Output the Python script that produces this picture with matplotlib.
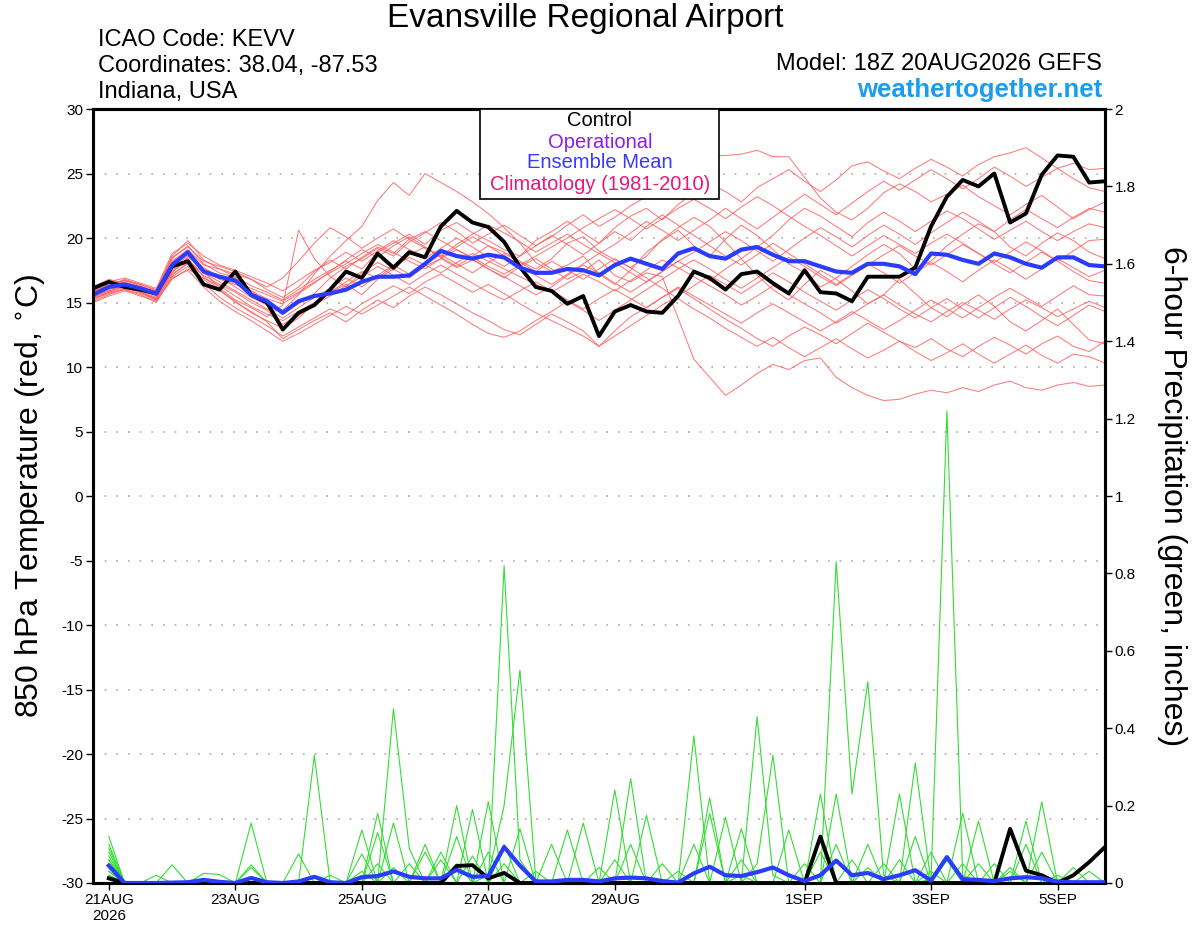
import numpy as np
import matplotlib
matplotlib.use('Agg')
import matplotlib.pyplot as plt
from matplotlib.patches import Rectangle

plt.rcParams['font.family'] = ['Liberation Sans', 'DejaVu Sans']
plt.rcParams['axes.unicode_minus'] = False

# time axis: days after 21AUG 00Z, 6-hourly
# temperature starts 20AUG 18Z (65 pts), precip starts 21AUG 00Z (64 pts)
tick_days = [0, 2, 4, 6, 8, 11, 13, 15]
tick_labels = ['21AUG\n2026', '23AUG', '25AUG', '27AUG', '29AUG', '1SEP', '3SEP', '5SEP']

# control (black) 850 hPa temperature
control_t = [16.1, 16.6, 16.2, 16.0, 15.7, 17.8, 18.2, 16.4, 16.0, 17.4, 15.6, 15.0, 12.9,
             14.2, 14.8, 16.0, 17.4, 16.9, 18.8, 17.7, 18.9, 18.5, 20.9, 22.1, 21.2, 20.85,
             19.7, 17.75, 16.2, 15.9, 14.9, 15.5, 12.4, 14.3, 14.8, 14.3, 14.2, 15.5, 17.4,
             16.9, 16.0, 17.2, 17.4, 16.5, 15.7, 17.5, 15.8, 15.7, 15.1, 17.0, 17.0, 17.0,
             17.7, 20.9, 23.2, 24.5, 24.0, 25.0, 21.2, 21.9, 24.9, 26.4, 26.3, 24.3, 24.4]

# ensemble mean (blue) temperature
mean_t = [15.6, 16.2, 16.4, 16.1, 15.7, 17.9, 18.9, 17.4, 17.0, 16.7, 15.6, 15.1, 14.2,
          15.1, 15.5, 15.7, 16.0, 16.6, 17.0, 17.0, 17.1, 18.0, 19.0, 18.6, 18.4, 18.7,
          18.5, 17.7, 17.3, 17.3, 17.6, 17.5, 17.1, 17.9, 18.4, 18.0, 17.6, 18.8, 19.2,
          18.6, 18.4, 19.1, 19.3, 18.7, 18.2, 18.2, 17.8, 17.4, 17.3, 18.0, 18.0, 17.8,
          17.2, 18.8, 18.7, 18.3, 18.0, 18.8, 18.5, 18.0, 17.7, 18.5, 18.5, 17.9, 17.8]

# ensemble members (red) temperature
member_t = [
    [15.8, 16.4, 16.6, 16.2, 15.9, 18.4, 19.4, 18.0, 17.3, 16.9, 15.9, 15.0, 14.4,
     15.6, 17.2, 18.6, 19.8, 20.9, 22.9, 24.3, 23.3, 25.0, 24.3, 23.6, 22.8, 21.9,
     20.8, 19.6, 18.1, 17.4, 17.9, 18.6, 17.2, 16.4, 17.5, 18.9, 19.8, 20.6, 19.4,
     18.6, 19.9, 21.0, 20.2, 19.1, 18.0, 17.3, 16.2, 16.9, 17.8, 18.7, 19.5, 18.8,
     17.6, 18.2, 19.4, 20.3, 21.1, 20.5, 19.3, 18.6, 19.6, 20.4, 19.8, 18.9, 18.4],
    [15.4, 15.9, 16.2, 15.8, 15.3, 17.6, 18.6, 17.4, 16.1, 15.2, 14.6, 13.9, 14.8,
     20.6, 18.4, 17.0, 16.2, 17.3, 18.1, 17.5, 18.7, 19.3, 18.5, 17.8, 18.6, 19.4,
     18.9, 18.2, 17.6, 18.4, 19.6, 20.1, 19.0, 18.3, 17.7, 18.6, 19.9, 20.8, 21.6,
     20.9, 19.7, 18.4, 17.1, 16.0, 15.2, 16.4, 17.5, 16.8, 15.9, 14.9, 15.6, 16.8,
     15.7, 14.6, 13.9, 14.8, 15.6, 14.7, 13.5, 12.8, 13.6, 14.5, 13.3, 12.1, 11.8],
    [15.6, 16.1, 16.5, 16.1, 15.7, 17.2, 18.0, 16.8, 15.9, 15.1, 14.2, 13.6, 13.0,
     13.8, 14.9, 15.8, 16.4, 15.6, 16.8, 17.6, 16.9, 17.8, 18.4, 17.7, 18.3, 17.6,
     16.9, 17.8, 18.4, 17.6, 16.8, 17.4, 18.3, 17.1, 16.6, 17.3, 17.0, 13.8, 10.6,
     9.2, 7.8, 8.6, 9.5, 10.2, 9.8, 10.5, 10.7, 9.2, 8.4, 7.8, 7.4, 7.5,
     7.9, 8.2, 8.0, 8.4, 8.1, 8.6, 8.9, 8.4, 8.2, 8.6, 8.8, 8.5, 8.6],
    [15.9, 16.3, 16.8, 16.4, 16.0, 18.6, 19.8, 18.3, 17.6, 17.0, 16.3, 15.8, 15.2,
     16.0, 16.8, 17.5, 18.2, 17.6, 18.9, 19.6, 20.3, 19.5, 20.6, 21.2, 20.4, 19.8,
     19.1, 18.6, 19.8, 20.5, 21.3, 20.4, 19.6, 20.8, 21.7, 22.3, 21.4, 22.6, 23.5,
     24.2, 23.6, 22.8, 23.9, 24.6, 25.3, 24.4, 23.6, 24.5, 25.6, 25.9, 25.2, 24.6,
     25.4, 26.1, 25.5, 24.8, 25.7, 26.3, 26.6, 27.0, 26.2, 25.4, 25.8, 25.3, 25.4],
    [15.2, 15.8, 16.0, 15.7, 15.2, 17.3, 18.5, 17.7, 17.0, 16.2, 15.4, 14.8, 14.2,
     14.9, 15.7, 16.9, 17.8, 18.4, 19.2, 18.6, 19.7, 20.4, 21.2, 20.5, 19.6, 20.3,
     21.0, 20.2, 19.4, 20.1, 21.0, 21.8, 20.9, 21.6, 22.5, 23.2, 24.0, 24.8, 25.6,
     26.3, 26.4, 26.5, 26.8, 26.3, 26.3, 24.7, 23.1, 22.0, 21.4, 22.3, 23.5, 24.2,
     23.6, 22.8, 23.4, 24.1, 23.2, 22.5, 21.8, 22.6, 23.3, 22.4, 21.5, 22.2, 22.8],
    [15.3, 15.7, 16.0, 15.6, 15.0, 17.0, 17.8, 16.5, 15.4, 14.6, 13.9, 13.2, 12.4,
     13.1, 13.8, 14.5, 14.0, 14.9, 15.6, 16.3, 15.7, 16.6, 17.2, 16.5, 15.8, 16.4,
     15.7, 14.9, 14.2, 13.6, 13.0, 12.4, 11.6, 12.8, 13.9, 14.6, 15.4, 16.1, 15.3,
     14.5, 13.7, 13.0, 12.2, 11.6, 12.4, 13.1, 12.5, 11.8, 12.6, 13.4, 12.7, 12.0,
     11.5, 12.2, 11.4, 10.8, 11.6, 12.3, 11.7, 11.0, 11.8, 12.4, 11.6, 11.2, 12.0],
    [16.2, 16.8, 16.5, 16.0, 15.5, 18.2, 19.1, 17.9, 17.6, 17.2, 16.8, 16.0, 15.4,
     16.2, 17.4, 18.3, 17.6, 18.5, 19.3, 18.8, 19.9, 20.5, 19.8, 19.1, 18.4, 17.6,
     17.0, 16.3, 15.6, 16.2, 17.1, 17.9, 17.3, 16.5, 15.8, 16.6, 17.4, 18.2, 17.5,
     16.7, 17.6, 18.4, 19.3, 20.2, 21.4, 22.3, 21.7, 20.9, 20.1, 21.2, 22.0, 21.3,
     20.5, 21.3, 22.1, 21.5, 20.7, 19.9, 20.6, 21.3, 20.5, 19.8, 20.5, 21.1, 20.8],
    [15.0, 15.5, 15.9, 15.5, 15.1, 16.8, 17.6, 16.9, 16.3, 15.5, 14.7, 14.1, 13.6,
     14.3, 15.0, 15.8, 16.6, 17.4, 16.9, 17.8, 18.5, 17.9, 17.3, 18.1, 18.8, 18.2,
     17.6, 17.0, 16.4, 15.8, 16.5, 17.2, 16.6, 15.9, 16.7, 17.5, 18.3, 17.7, 17.0,
     16.3, 15.6, 14.8, 15.5, 16.3, 15.6, 14.9, 14.2, 13.4, 14.1, 14.9, 15.6, 14.8,
     14.1, 13.5, 14.3, 15.0, 14.4, 13.7, 14.5, 15.2, 14.6, 13.9, 14.5, 15.1, 14.6],
    [15.7, 16.3, 16.7, 16.3, 15.8, 18.1, 19.0, 17.5, 16.8, 16.4, 15.9, 15.3, 14.9,
     15.7, 16.5, 17.4, 18.3, 19.1, 18.5, 19.4, 20.1, 19.3, 18.6, 19.5, 20.3, 21.0,
     20.4, 19.7, 18.9, 19.6, 20.3, 19.5, 18.8, 19.5, 20.4, 21.3, 20.6, 19.8, 20.6,
     21.4, 22.3, 21.5, 20.7, 21.6, 22.5, 23.4, 22.6, 21.8, 22.7, 23.6, 24.4, 23.7,
     24.5, 25.3, 24.6, 23.8, 24.6, 25.5, 24.8, 24.0, 24.7, 25.4, 24.6, 23.9, 23.6],
    [15.5, 16.0, 16.3, 16.0, 15.6, 17.5, 18.4, 17.0, 16.0, 15.0, 14.3, 13.5, 12.2,
     12.9, 13.6, 14.2, 13.5, 14.4, 15.2, 14.6, 15.5, 16.2, 15.6, 14.9, 14.2, 13.6,
     12.9, 12.5, 13.3, 14.1, 13.5, 12.8, 11.6, 12.4, 13.2, 14.0, 14.8, 15.5, 16.3,
     17.1, 16.4, 15.7, 16.5, 17.3, 16.6, 15.8, 15.1, 14.4, 15.2, 16.0, 15.3, 14.5,
     13.8, 14.6, 15.3, 14.5, 13.8, 14.6, 15.4, 14.7, 13.9, 13.2, 14.0, 14.8, 14.3],
    [16.0, 16.6, 16.9, 16.5, 16.1, 18.8, 19.6, 18.6, 17.9, 17.5, 17.0, 16.5, 15.9,
     16.7, 17.5, 18.1, 18.9, 18.2, 19.0, 19.8, 19.1, 18.4, 19.2, 20.0, 19.3, 18.5,
     17.8, 18.6, 19.4, 20.2, 19.5, 18.7, 19.6, 20.5, 19.8, 20.9, 21.8, 21.0, 20.2,
     19.4, 18.6, 17.9, 18.7, 19.6, 18.8, 18.0, 17.2, 16.4, 17.2, 18.0, 17.3, 16.5,
     17.3, 18.1, 17.4, 16.6, 17.5, 18.3, 17.6, 16.8, 17.6, 18.4, 17.7, 17.0, 17.5],
    [15.4, 15.9, 16.3, 15.9, 15.4, 17.4, 18.2, 17.3, 16.6, 15.9, 15.2, 14.5, 13.8,
     14.6, 15.4, 16.1, 16.9, 16.2, 17.1, 17.9, 17.2, 18.0, 18.7, 18.0, 17.3, 18.1,
     18.8, 18.1, 17.4, 18.2, 17.5, 16.8, 17.6, 18.4, 17.7, 16.9, 16.1, 15.3, 14.5,
     13.8, 13.0, 12.3, 11.6, 12.3, 11.5, 10.8, 11.5, 12.2, 11.4, 10.7, 11.3, 12.0,
     11.2, 10.5, 11.1, 11.8, 11.0, 10.3, 11.0, 11.7, 10.9, 10.3, 11.0, 10.8, 10.3],
    [15.9, 16.5, 16.7, 16.4, 15.9, 18.5, 19.3, 18.2, 17.8, 17.4, 16.8, 16.2, 16.9,
     18.2, 19.6, 20.8, 20.1, 19.2, 20.0, 20.7, 19.9, 19.2, 18.5, 19.3, 20.1, 19.4,
     18.6, 17.9, 17.1, 16.4, 17.2, 18.0, 18.8, 18.1, 17.3, 16.6, 17.4, 18.2, 18.9,
     19.7, 20.5, 19.8, 19.0, 18.2, 19.1, 20.0, 20.8, 20.1, 19.3, 20.2, 21.0, 20.3,
     19.5, 20.4, 21.2, 22.0, 21.3, 20.5, 21.4, 22.2, 21.5, 20.8, 21.6, 22.3, 22.0],
    [15.1, 15.6, 16.1, 15.8, 15.2, 16.9, 17.5, 16.2, 15.1, 14.3, 13.6, 12.8, 12.0,
     12.6, 13.3, 14.0, 14.7, 14.1, 14.8, 15.5, 16.2, 15.5, 14.8, 14.1, 13.3, 12.6,
     12.3, 12.8, 13.6, 14.3, 15.1, 14.4, 13.6, 14.4, 15.2, 16.0, 16.8, 17.6, 18.3,
     17.6, 16.8, 16.1, 16.9, 17.7, 18.5, 17.8, 17.0, 16.3, 17.1, 17.9, 18.7, 19.4,
     18.6, 17.9, 18.7, 19.5, 18.8, 18.0, 17.3, 18.1, 18.9, 18.2, 17.4, 16.7, 16.5],
    [15.6, 16.2, 16.4, 16.1, 15.7, 17.8, 18.9, 17.6, 16.9, 16.5, 16.1, 15.6, 15.1,
     15.8, 16.6, 17.3, 18.0, 18.8, 19.5, 18.9, 18.2, 17.6, 18.4, 19.1, 18.5, 17.8,
     17.2, 17.9, 18.6, 19.3, 20.0, 20.8, 21.5, 22.2, 21.5, 20.7, 21.5, 22.3, 23.0,
     22.3, 21.5, 22.4, 23.2, 22.5, 21.7, 20.9, 20.2, 19.4, 18.6, 19.4, 20.2, 19.5,
     18.8, 19.6, 20.3, 19.6, 18.8, 18.1, 18.9, 19.7, 19.0, 18.2, 19.0, 19.8, 19.9],
    [15.3, 15.8, 16.2, 15.8, 15.3, 17.1, 18.1, 17.1, 16.4, 15.8, 15.0, 14.4, 13.3,
     14.0, 14.8, 15.5, 16.3, 17.0, 17.8, 17.1, 16.4, 17.2, 17.9, 17.2, 16.5, 15.8,
     15.2, 15.9, 16.6, 15.9, 15.2, 14.5, 15.3, 16.0, 15.3, 14.6, 15.4, 16.2, 15.5,
     14.8, 14.1, 13.4, 14.2, 14.9, 14.2, 13.5, 12.8, 13.5, 14.3, 13.6, 12.9, 13.6,
     14.4, 15.2, 14.5, 13.8, 14.6, 15.4, 16.1, 15.4, 14.7, 15.5, 16.3, 15.6, 15.5],
]

# control (black) 6-hour precipitation
control_p = [0.012, 0, 0, 0, 0, 0, 0, 0, 0, 0, 0, 0, 0, 0, 0, 0,
             0, 0, 0, 0, 0, 0, 0.044, 0.046, 0.012, 0.026, 0, 0, 0, 0, 0, 0,
             0, 0, 0, 0, 0, 0, 0, 0, 0, 0, 0, 0, 0, 0.12, 0, 0,
             0, 0, 0, 0, 0, 0, 0, 0, 0, 0.14, 0.032, 0.02, 0, 0.02, 0.054, 0.093]

# ensemble mean (blue) 6-hour precipitation
mean_p = [0.045, 0, 0, 0, 0.001, 0.002, 0.008, 0.003, 0, 0.013, 0.002, 0, 0.004, 0.016, 0.002, 0,
          0.015, 0.018, 0.03, 0.016, 0.012, 0.012, 0.034, 0.016, 0.018, 0.093, 0.045, 0.004, 0.004, 0.008, 0.008, 0.004,
          0.012, 0.014, 0.012, 0.005, 0.001, 0.025, 0.042, 0.02, 0.018, 0.028, 0.04, 0.02, 0.005, 0.02, 0.058, 0.02,
          0.026, 0.01, 0.02, 0.033, 0.006, 0.067, 0.01, 0.008, 0.005, 0.012, 0.015, 0.012, 0.003, 0.002, 0.002, 0.002]

# ensemble members (green) 6-hour precipitation
member_p = [
    [0.12, 0, 0, 0, 0, 0, 0, 0, 0, 0, 0, 0, 0, 0.33, 0, 0,
     0, 0, 0, 0, 0, 0, 0, 0, 0, 0.82, 0.06, 0, 0, 0, 0, 0,
     0, 0, 0, 0, 0, 0, 0, 0, 0.02, 0, 0, 0, 0, 0, 0, 0,
     0, 0, 0, 0, 0.03, 0, 0, 0, 0, 0, 0, 0, 0, 0, 0, 0],
    [0.10, 0, 0, 0, 0, 0, 0, 0, 0, 0, 0, 0, 0, 0, 0, 0,
     0, 0, 0.45, 0.09, 0, 0, 0, 0, 0, 0, 0, 0, 0, 0, 0, 0,
     0, 0, 0, 0, 0, 0, 0, 0, 0, 0, 0, 0, 0, 0, 0.83, 0.23,
     0.52, 0.02, 0, 0, 0, 0, 0, 0, 0, 0, 0, 0, 0, 0, 0, 0],
    [0.08, 0, 0, 0, 0, 0, 0, 0, 0, 0.155, 0, 0, 0, 0, 0, 0,
     0, 0, 0, 0, 0, 0, 0, 0, 0.02, 0.2, 0.55, 0.01, 0, 0, 0, 0,
     0, 0, 0, 0, 0, 0, 0, 0, 0, 0, 0, 0, 0, 0, 0, 0,
     0, 0, 0, 0, 0, 0, 0, 0, 0, 0.03, 0, 0, 0, 0, 0, 0],
    [0.06, 0, 0, 0, 0, 0, 0, 0, 0, 0, 0, 0, 0, 0, 0, 0,
     0, 0.13, 0, 0, 0, 0, 0, 0, 0, 0, 0, 0, 0, 0, 0, 0,
     0, 0, 0, 0, 0, 0.38, 0, 0, 0, 0, 0, 0, 0, 0, 0, 0,
     0, 0, 0, 0, 0.01, 1.22, 0.02, 0, 0, 0, 0, 0, 0, 0, 0, 0],
    [0.05, 0, 0, 0, 0, 0, 0, 0, 0, 0, 0, 0, 0, 0, 0, 0,
     0, 0, 0, 0, 0, 0, 0.2, 0, 0, 0, 0, 0, 0, 0, 0, 0,
     0, 0, 0, 0, 0, 0, 0, 0, 0, 0.43, 0.02, 0, 0, 0, 0, 0,
     0, 0, 0, 0, 0, 0, 0, 0, 0, 0, 0, 0, 0.01, 0, 0, 0],
    [0.04, 0, 0, 0, 0, 0, 0, 0, 0, 0, 0, 0, 0.075, 0, 0, 0,
     0, 0, 0, 0, 0, 0, 0, 0, 0, 0, 0, 0, 0, 0, 0, 0,
     0.24, 0, 0, 0, 0, 0, 0, 0, 0, 0.05, 0.33, 0, 0, 0, 0, 0,
     0, 0, 0, 0.31, 0, 0, 0, 0, 0, 0, 0, 0, 0, 0, 0, 0],
    [0.03, 0, 0, 0, 0, 0, 0, 0, 0, 0, 0, 0, 0, 0, 0, 0,
     0, 0.18, 0, 0, 0, 0, 0, 0, 0, 0, 0, 0, 0, 0, 0.155, 0,
     0, 0.27, 0, 0, 0, 0, 0, 0, 0, 0, 0, 0, 0, 0.23, 0, 0,
     0, 0, 0, 0, 0, 0, 0, 0, 0, 0, 0, 0.21, 0, 0, 0, 0],
    [0.07, 0, 0, 0, 0, 0, 0, 0, 0, 0, 0, 0, 0, 0, 0, 0,
     0.137, 0, 0, 0, 0, 0, 0, 0.19, 0, 0, 0, 0, 0, 0, 0, 0,
     0, 0, 0, 0, 0, 0, 0.22, 0, 0, 0, 0, 0, 0, 0, 0, 0,
     0, 0, 0.23, 0, 0, 0, 0, 0, 0, 0, 0.16, 0, 0, 0, 0, 0],
    [0.02, 0, 0, 0, 0, 0, 0, 0, 0, 0, 0, 0, 0, 0, 0, 0,
     0, 0, 0.155, 0, 0, 0, 0, 0, 0.21, 0, 0, 0, 0, 0.137, 0, 0,
     0, 0, 0, 0, 0, 0, 0, 0.17, 0, 0, 0, 0, 0, 0, 0, 0,
     0, 0, 0, 0, 0, 0, 0.18, 0, 0, 0, 0, 0, 0, 0, 0, 0],
    [0.03, 0, 0, 0, 0, 0, 0, 0, 0, 0, 0, 0, 0, 0, 0, 0,
     0, 0, 0, 0, 0.10, 0, 0.12, 0, 0, 0, 0, 0, 0, 0, 0, 0,
     0, 0, 0.175, 0, 0, 0, 0, 0, 0, 0, 0, 0, 0, 0, 0.23, 0,
     0, 0, 0, 0, 0, 0, 0, 0.16, 0, 0, 0, 0, 0, 0, 0, 0],
    [0, 0, 0, 0, 0, 0, 0, 0, 0, 0, 0, 0, 0, 0, 0, 0,
     0.075, 0, 0, 0, 0, 0.08, 0, 0, 0, 0, 0, 0, 0.1, 0, 0, 0,
     0, 0, 0, 0, 0, 0, 0, 0, 0.14, 0, 0, 0, 0, 0, 0, 0,
     0.1, 0, 0, 0, 0, 0, 0, 0, 0, 0, 0, 0, 0, 0.04, 0, 0],
    [0, 0, 0, 0, 0, 0, 0, 0, 0, 0.047, 0, 0, 0, 0, 0, 0,
     0, 0, 0, 0, 0.08, 0, 0, 0, 0, 0, 0.14, 0, 0, 0, 0, 0,
     0, 0, 0, 0, 0, 0, 0.18, 0, 0, 0, 0, 0.137, 0, 0, 0, 0,
     0, 0, 0, 0.12, 0, 0, 0, 0, 0, 0, 0, 0, 0, 0, 0, 0],
    [0, 0, 0, 0, 0.047, 0, 0, 0, 0, 0, 0, 0, 0, 0, 0, 0,
     0, 0, 0, 0.05, 0, 0, 0, 0, 0, 0.1, 0, 0, 0, 0, 0, 0.04,
     0, 0, 0, 0, 0, 0, 0, 0, 0, 0, 0, 0, 0, 0.08, 0, 0,
     0, 0, 0, 0, 0, 0.06, 0, 0, 0, 0, 0.1, 0, 0, 0, 0, 0],
    [0, 0, 0, 0, 0, 0, 0.025, 0.022, 0, 0, 0, 0, 0, 0, 0, 0,
     0, 0, 0, 0, 0, 0.06, 0, 0, 0.08, 0, 0, 0, 0, 0, 0, 0,
     0, 0, 0, 0.05, 0, 0, 0, 0, 0, 0, 0, 0, 0, 0, 0, 0.06,
     0, 0, 0, 0, 0, 0, 0, 0, 0.05, 0, 0, 0.08, 0, 0, 0, 0],
    [0.02, 0, 0, 0.02, 0, 0, 0, 0, 0, 0, 0, 0, 0, 0, 0.02, 0,
     0, 0, 0, 0, 0, 0, 0.05, 0, 0, 0, 0, 0, 0, 0, 0, 0,
     0.06, 0, 0, 0, 0, 0.1, 0, 0, 0, 0, 0, 0, 0, 0, 0, 0,
     0, 0.05, 0, 0, 0.08, 0, 0, 0, 0, 0, 0, 0, 0, 0, 0, 0],
    [0, 0, 0, 0, 0, 0, 0, 0, 0, 0.04, 0, 0, 0, 0, 0, 0,
     0, 0.05, 0, 0, 0, 0, 0, 0.07, 0, 0, 0, 0, 0, 0, 0, 0,
     0, 0.1, 0, 0, 0, 0, 0, 0, 0, 0, 0, 0, 0.05, 0, 0, 0,
     0, 0, 0.06, 0, 0, 0, 0, 0, 0, 0.04, 0, 0, 0, 0, 0, 0],
    [0.06, 0, 0, 0, 0, 0, 0, 0, 0, 0, 0, 0, 0, 0, 0, 0,
     0.03, 0, 0, 0, 0, 0, 0, 0, 0, 0.05, 0, 0, 0, 0, 0, 0,
     0, 0, 0, 0, 0.03, 0, 0, 0, 0, 0, 0, 0, 0, 0, 0.1, 0,
     0, 0, 0, 0, 0, 0, 0.05, 0, 0, 0, 0, 0, 0.02, 0, 0, 0],
    [0.09, 0, 0, 0, 0, 0, 0, 0, 0, 0, 0, 0, 0, 0, 0, 0,
     0, 0, 0.04, 0, 0, 0, 0, 0, 0, 0, 0, 0.03, 0, 0, 0, 0,
     0, 0, 0, 0, 0, 0, 0, 0, 0.06, 0, 0, 0, 0, 0, 0, 0,
     0.04, 0, 0, 0, 0, 0, 0, 0.05, 0, 0, 0, 0, 0, 0, 0.03, 0],
]

t_temp = np.arange(len(control_t)) * 0.25 - 0.25
t_prcp = np.arange(len(control_p)) * 0.25

fig = plt.figure(figsize=(12, 9.27), dpi=100)
ax = fig.add_axes([93 / 1200, 1 - 883 / 927, (1105 - 93) / 1200, (883 - 109) / 927])
ax2 = ax.twinx()

# temperature
for m in member_t:
    ax.plot(t_temp, m, color='#ff5a5a', lw=0.7, alpha=0.85, zorder=2)
ax.plot(t_temp, control_t, color='black', lw=2.8, zorder=4)
ax.plot(t_temp, mean_t, color='#2a3cff', lw=3, zorder=5)

# precipitation
for m in member_p:
    ax2.plot(t_prcp, m, color='#33dd33', lw=0.8, zorder=2)
ax2.plot(t_prcp, control_p, color='black', lw=2.8, zorder=4)
ax2.plot(t_prcp, mean_p, color='#2a3cff', lw=3, zorder=5)

ax.set_xlim(-0.25, 15.75)
ax.set_ylim(-30, 30)
ax2.set_ylim(0, 2)
ax.set_yticks(np.arange(-30, 31, 5))
ax2.set_yticks(np.arange(0, 2.01, 0.2))
ax2.set_yticklabels([f'{v:g}' for v in np.arange(0, 2.01, 0.2).round(1)])
ax.set_xticks(tick_days)
ax.set_xticklabels(tick_labels)

for g in np.arange(-25, 26, 5):
    ax.axhline(g, color='#aaaaaa', lw=1.2, ls=(0, (1, 6)), zorder=1)

for a in (ax, ax2):
    for s in a.spines.values():
        s.set_linewidth(2.2)
    a.tick_params(labelsize=11, length=5, width=1, direction='out', pad=2)

ax.set_ylabel('850 hPa Temperature (red, $^{\\circ}$C)', fontsize=23, va='center')
ax.yaxis.set_label_coords(-0.062, 0.5)
ax2.set_ylabel('6-hour Precipitation (green, inches)', fontsize=23, rotation=270, va='center')
ax2.yaxis.set_label_coords(1.066, 0.5)

# header text
fig.text(585 / 1200, 1 - 18 / 927, 'Evansville Regional Airport', fontsize=24, ha='center', va='center')
fig.text(98 / 1200, 1 - 40 / 927, 'ICAO Code: KEVV', fontsize=17, ha='left', va='center')
fig.text(98 / 1200, 1 - 66 / 927, 'Coordinates: 38.04, -87.53', fontsize=17, ha='left', va='center')
fig.text(98 / 1200, 1 - 92 / 927, 'Indiana, USA', fontsize=17, ha='left', va='center')
fig.text(1102 / 1200, 1 - 64 / 927, 'Model: 18Z 20AUG2026 GEFS', fontsize=17, ha='right', va='center')
fig.text(1102 / 1200, 1 - 90 / 927, 'weathertogether.net', fontsize=18.5, fontweight='bold',
         color='#1a9cf0', ha='right', va='center')

# legend box
fig.add_artist(Rectangle((480 / 1200, 1 - 199 / 927), 239 / 1200, 90 / 927,
                         transform=fig.transFigure, facecolor='white', edgecolor='black', lw=1.2, zorder=10))
leg_items = [('Control', 'black', 121), ('Operational', '#8c1ee6', 142),
             ('Ensemble Mean', '#3a3aff', 163), ('Climatology (1981-2010)', '#e6197a', 185)]
for txt, col, yy in leg_items:
    fig.text(600 / 1200, 1 - yy / 927, txt, color=col, fontsize=14.5, ha='center', va='center', zorder=11)

fig.savefig('out.png', dpi=100)
